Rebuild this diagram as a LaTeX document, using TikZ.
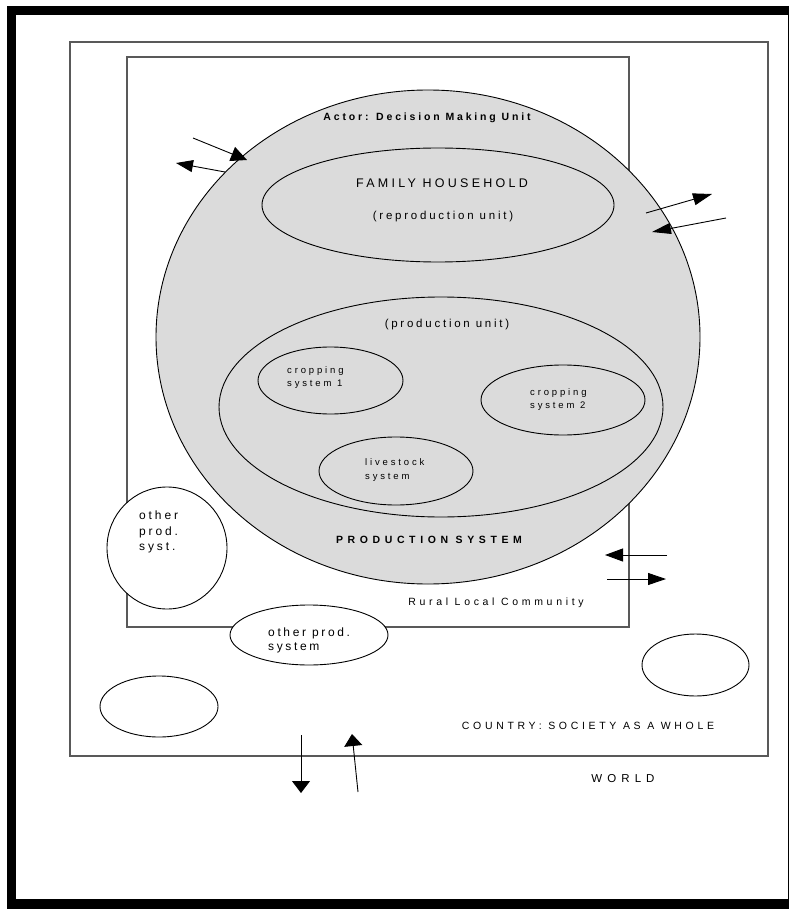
\documentclass[tikz,border=0pt]{standalone}
\usepackage{fontspec}
\setmainfont{Liberation Sans}
\usetikzlibrary{arrows.meta,shapes.geometric}

\definecolor{hatch}{gray}{0.86}
\definecolor{boxline}{gray}{0.35}

\tikzset{
  ring/.style={ellipse, draw=black, line width=0.9pt, inner sep=0pt, fill=white},
  shaded/.style={ring, fill=hatch},
  boxframe/.style={draw=boxline, line width=1.2pt},
  flowline/.style={line width=0.9pt},
  tip/.style n args={2}{flowline, -{Triangle[length=#1pt, width=#2pt]}},
  lbl/.style={inner sep=0pt, anchor=base},
  mlbl/.style={inner sep=0pt, anchor=west, align=left},
}
\newcommand{\tracked}[2]{\fontsize{#1}{#1}\selectfont\addfontfeature{LetterSpace=#2}}
\newcommand{\trackedbold}[2]{\fontsize{#1}{#1}\selectfont\bfseries\addfontfeature{LetterSpace=#2}}

\begin{document}
\begin{tikzpicture}[x=1pt, y=-1pt]
  \useasboundingbox (0,0) rectangle (789,909);

  % heavy page frame
  \fill[black] (7,6) rectangle (16,909);
  \fill[black] (7,6) rectangle (789,15);
  \fill[black] (7,899) rectangle (789,909);
  \draw[line width=1pt] (788,6) -- (788,909);

  % country and rural community boxes
  \draw[boxframe] (70,42) rectangle (768,756);
  \draw[boxframe] (127,57) rectangle (629,627);

  % decision making unit and its parts
  \node[shaded, minimum width=544pt, minimum height=494pt] (actor) at (428,337) {};
  \node[shaded, minimum width=352pt, minimum height=114pt] (family) at (438,205) {};
  \node[shaded, minimum width=444pt, minimum height=220pt] (produnit) at (441,407) {};
  \node[shaded, minimum width=145pt, minimum height=67pt] (crop1) at (330.5,380.5) {};
  \node[shaded, minimum width=154pt, minimum height=68pt] (stock) at (396,471) {};
  \node[shaded, minimum width=164pt, minimum height=70pt] (crop2) at (563,400) {};

  % other production systems
  \node[ring, minimum width=120pt, minimum height=122pt] (other1) at (167,548) {};
  \node[ring, minimum width=158pt, minimum height=60pt] (other2) at (309,635) {};
  \node[ring, minimum width=118pt, minimum height=61pt] (other3) at (159,706.5) {};
  \node[ring, minimum width=107pt, minimum height=62pt] (other4) at (695.5,665) {};

  % labels
  \node[lbl, font=\trackedbold{10.5}{27}] (tactor) at (427,121) {Actor: Decision Making Unit};
  \node[lbl, font=\tracked{12.5}{26}] (tfamily) at (442,188) {FAMILY HOUSEHOLD};
  \node[lbl, font=\tracked{11.5}{24}] (trepro) at (443,219) {(reproduction unit)};
  \node[lbl, font=\tracked{11.5}{24}] (tprodu) at (447,327) {(production unit)};
  \node[mlbl, font=\tracked{9.5}{30}] (tcrop1) at (287,377.5) {cropping\\[4pt]system 1};
  \node[mlbl, font=\tracked{9.5}{30}] (tstock) at (365,470) {livestock\\[4pt]system};
  \node[mlbl, font=\tracked{9.5}{30}] (tcrop2) at (530,399.5) {cropping\\[4pt]system 2};
  \node[lbl, font=\trackedbold{10.5}{44}] (tprodsys) at (429,543) {PRODUCTION SYSTEM};
  \node[lbl, font=\tracked{10.5}{35}] (trural) at (496,605) {Rural Local Community};
  \node[mlbl, font=\tracked{12}{24}] (tother1) at (139,532) {other\\[3.5pt]prod.\\[3.5pt]syst.};
  \node[mlbl, font=\tracked{12}{22}] (tother2) at (268,640) {other prod.\\[2pt]system};
  \node[lbl, font=\tracked{10.5}{35}] (tcountry) at (588,729) {COUNTRY: SOCIETY AS A WHOLE};
  \node[lbl, font=\tracked{11.5}{44}] (tworld) at (623,782) {WORLD};

  % flow arrow end points
  \coordinate (p1s) at (193,138);  \coordinate (p1e) at (247,160);
  \coordinate (p2s) at (225,172);  \coordinate (p2e) at (176,163);
  \coordinate (p3s) at (646,213);  \coordinate (p3e) at (712,194);
  \coordinate (p4s) at (726,218);  \coordinate (p4e) at (652,232);
  \coordinate (p5s) at (667,555);  \coordinate (p5e) at (605,555);
  \coordinate (p6s) at (607,579);  \coordinate (p6e) at (666,579);
  \coordinate (p7s) at (301,735);  \coordinate (p7e) at (301,793);
  \coordinate (p8s) at (358,792);  \coordinate (p8e) at (352,734);

  % exchanges across the boundaries
  \draw[tip={16}{15}] (p1s) -- (p1e);
  \draw[tip={17}{12}] (p2s) -- (p2e);
  \draw[tip={19}{12}] (p3s) -- (p3e);
  \draw[tip={19}{11}] (p4s) -- (p4e);
  \draw[tip={18}{13}] (p5s) -- (p5e);
  \draw[tip={18}{12}] (p6s) -- (p6e);
  \draw[tip={12}{18}] (p7s) -- (p7e);
  \draw[tip={12}{18}] (p8s) -- (p8e);
\end{tikzpicture}
\end{document}
